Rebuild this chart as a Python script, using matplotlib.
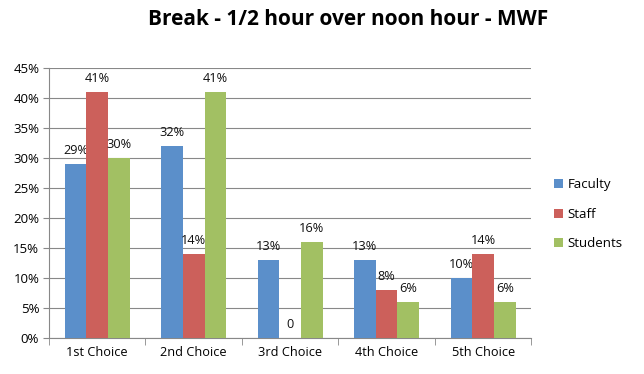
import matplotlib.pyplot as plt
import numpy as np

categories = ['1st Choice', '2nd Choice', '3rd Choice', '4th Choice', '5th Choice']
faculty = [29, 32, 13, 13, 10]
staff = [41, 14, 0, 8, 14]
students = [30, 41, 16, 6, 6]
series_names = ['Faculty', 'Staff', 'Students']
colors = ['#5B8FCA', '#CC605B', '#A2C063']

plt.rcParams['font.family'] = ['Open Sans', 'DejaVu Sans']

fig = plt.figure(figsize=(6.44, 3.74), dpi=100)
ax = fig.add_axes([0.076, 0.096, 0.749, 0.722])

x = np.arange(len(categories))
w = 0.225
for i, (vals, name, c) in enumerate(zip([faculty, staff, students], series_names, colors)):
    pos = x + (i - 1) * w
    ax.bar(pos, vals, width=w, color=c, label=name, zorder=3)
    for p, v in zip(pos, vals):
        txt = '0' if v == 0 else f'{v}%'
        ax.text(p, v + 1.2, txt, ha='center', va='bottom', fontsize=9.2, color='#111111')

ax.set_xlim(-0.5, len(categories) - 0.5)
ax.set_ylim(0, 45)
ax.set_yticks(range(0, 46, 5))
ax.set_yticklabels([f'{t}%' for t in range(0, 46, 5)], fontsize=9.5)
ax.set_xticks(x)
ax.set_xticklabels(categories, fontsize=9.2)
ax.tick_params(axis='x', length=0, pad=6)
ax.tick_params(axis='y', length=4, color='#888888', pad=3)
ax.set_xticks(np.arange(-0.5, len(categories), 1), minor=True)
ax.tick_params(axis='x', which='minor', length=5, color='#888888', direction='out')
ax.yaxis.grid(True, color='#888888', linewidth=0.8, zorder=0)
for s in ['top', 'right']:
    ax.spines[s].set_visible(False)
for s in ['left', 'bottom']:
    ax.spines[s].set_color('#888888')

fig.suptitle('Break - 1/2 hour over noon hour - MWF', x=0.54, y=0.975, fontsize=15, fontweight='bold')
fig.legend(loc='upper left', bbox_to_anchor=(0.842, 0.555), frameon=False, fontsize=9.5,
           handlelength=0.7, handleheight=0.7, handletextpad=0.3, labelspacing=1.25)

plt.savefig('out.png', dpi=100)
plt.close()
